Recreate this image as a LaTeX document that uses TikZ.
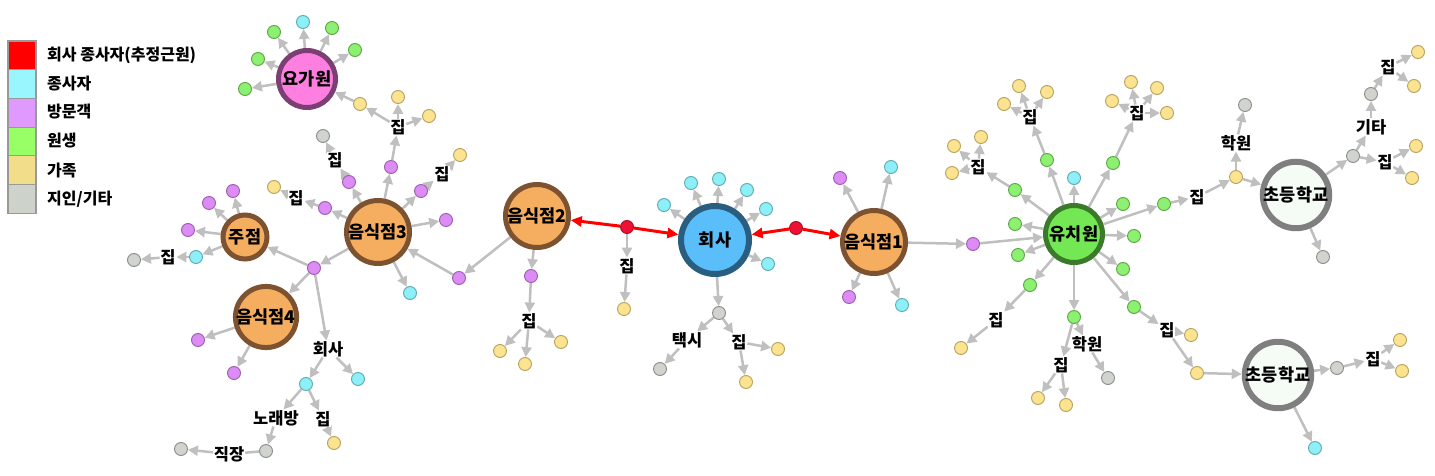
\documentclass[tikz,border=0pt]{standalone}
\usepackage{fontspec}
\setmainfont{Noto Sans CJK KR}
\usetikzlibrary{arrows.meta}
\pgfdeclarelayer{bg}
\pgfsetlayers{bg,main}
\definecolor{eg}{HTML}{BFBFBF}
\definecolor{cyF}{HTML}{8DF0F8}\definecolor{cyD}{HTML}{5FA9B0}
\definecolor{puF}{HTML}{DD8CF5}\definecolor{puD}{HTML}{9C5CB0}
\definecolor{grF}{HTML}{8CF070}\definecolor{grD}{HTML}{5BA545}
\definecolor{yeF}{HTML}{FCE38F}\definecolor{yeD}{HTML}{B6A160}
\definecolor{gyF}{HTML}{D0D3CE}\definecolor{gyD}{HTML}{8A8D88}
\definecolor{rdF}{HTML}{EE1133}\definecolor{rdD}{HTML}{A01020}
\definecolor{LcyF}{HTML}{99F6FF}\definecolor{LpuF}{HTML}{E099FF}
\definecolor{LgrF}{HTML}{99FF66}\definecolor{LyeF}{HTML}{F2DE8A}
\definecolor{LgyF}{HTML}{CDD3CB}
\definecolor{pkF}{HTML}{FF7FE0}\definecolor{pkD}{HTML}{7B3F74}
\definecolor{orF}{HTML}{F5AD5F}\definecolor{orD}{HTML}{7C5230}
\definecolor{blF}{HTML}{5ABEFA}\definecolor{blD}{HTML}{2A5E80}
\definecolor{kgF}{HTML}{74E854}\definecolor{kgD}{HTML}{3B7A2B}
\definecolor{wtF}{HTML}{F5FBF5}\definecolor{wtD}{HTML}{7F7F7F}
\tikzset{
  sm/.style={circle,minimum size=13,inner sep=0,line width=0.9},
  cy/.style={sm,fill=cyF,draw=cyD},
  pu/.style={sm,fill=puF,draw=puD},
  gr/.style={sm,fill=grF,draw=grD},
  ye/.style={sm,fill=yeF,draw=yeD},
  gy/.style={sm,fill=gyF,draw=gyD},
  rd/.style={sm,fill=rdF,draw=rdD},
  big/.style={circle,inner sep=0,line width=5,font=\fontsize{17.5}{19}\selectfont\bfseries},
  orn/.style={big,fill=orF,draw=orD,minimum size=63},
  lab/.style={inner sep=0.6,fill=white,font=\fontsize{16.5}{18}\selectfont\bfseries},
  e/.style={draw=eg,line width=2.5,-{Triangle[length=10,width=10]}},
  ep/.style={draw=eg,line width=2.5},
  re/.style={draw=red,line width=3,-{Triangle[length=11,width=10]}},
  legbox/.style={draw=gray!80,line width=1.2,minimum width=28,minimum height=28.7,inner sep=0},
  legtxt/.style={anchor=west,font=\fontsize{16}{18}\selectfont\bfseries,inner sep=0}
}
\begin{document}
\begin{tikzpicture}[x=1pt,y=-1pt]
\useasboundingbox (0,0) rectangle (1435,476);
% legend
\node[legbox,fill=red]  (L1) at (22,55.4) {};
\node[legbox,fill=LcyF] (L2) at (22,84.1) {};
\node[legbox,fill=LpuF] (L3) at (22,112.8) {};
\node[legbox,fill=LgrF] (L4) at (22,141.5) {};
\node[legbox,fill=LyeF] (L5) at (22,170.2) {};
\node[legbox,fill=LgyF] (L6) at (22,198.9) {};
\node[legtxt] (T1) at (47,55) {회사 종사자(추정근원)};
\node[legtxt] (T2) at (47,84) {종사자};
\node[legtxt] (T3) at (47,112) {방문객};
\node[legtxt] (T4) at (47,141) {원생};
\node[legtxt] (T5) at (47,170) {가족};
\node[legtxt] (T6) at (47,199) {지인/기타};

% big nodes
\node[big,fill=pkF,draw=pkD,minimum size=57] (yoga) at (307,79) {요가원};
\node[orn] (r3) at (378,232) {음식점3};
\node[orn,minimum size=44] (ju) at (245,237) {주점};
\node[orn,minimum size=61] (r4) at (266,317) {음식점4};
\node[orn] (r2) at (537,216) {음식점2};
\node[big,fill=blF,draw=blD,line width=6,minimum size=68] (co) at (715,240) {회사};
\node[orn] (r1) at (874,242) {음식점1};
\node[big,fill=kgF,draw=kgD,minimum size=57] (ki) at (1074,234) {유치원};
\node[big,fill=wtF,draw=wtD,line width=6,minimum size=58] (e1) at (1296,195) {초등학교};
\node[big,fill=wtF,draw=wtD,line width=6,minimum size=58] (e2) at (1278,375) {초등학교};

% yoga cluster
\node[gr] (y1) at (274,32) {};
\node[cy] (y2) at (303,22) {};
\node[gr] (y3) at (332,28) {};
\node[gr] (y4) at (355,50) {};
\node[gr] (y5) at (258,59) {};
\node[gr] (y6) at (245,89) {};
\node[ye] (yy) at (360,104) {};
\node[lab] (h1) at (398,127) {집};
\node[ye] (a1) at (398,97) {};
\node[ye] (a2) at (429,116) {};
% r3 cluster
\node[pu] (p1) at (391,167) {};
\node[pu] (p2) at (421,191) {};
\node[lab] (h2) at (442,174) {집};
\node[ye] (a3) at (460,155) {};
\node[pu] (p3) at (446,220) {};
\node[pu] (p4) at (349,182) {};
\node[lab] (h3) at (335,160) {집};
\node[gy] (a4) at (323,136) {};
\node[pu] (p5) at (325,208) {};
\node[lab] (h4) at (296,198) {집};
\node[ye] (a5) at (274,187) {};
\node[cy] (c1) at (410,293) {};
\node[pu] (p6) at (459,278) {};
\node[pu] (p7) at (314,268) {};
% ju cluster
\node[pu] (j1) at (209,203) {};
\node[pu] (j2) at (233,191) {};
\node[pu] (j3) at (188,230) {};
\node[cy] (c2) at (196,257) {};
\node[lab] (h5) at (168,257) {집};
\node[gy] (a6) at (134,260) {};
% r4 cluster
\node[pu] (q1) at (198,340) {};
\node[pu] (q2) at (234,373) {};
\node[lab] (lco) at (328,349) {회사};
\node[cy] (c3) at (358,379) {};
\node[cy] (c4) at (306,384) {};
\node[lab] (nr) at (276,418) {노래방};
\node[lab] (h6) at (323,419) {집};
\node[ye] (a7) at (334,443) {};
\node[gy] (g1) at (266,451) {};
\node[lab] (jj) at (229,454) {직장};
\node[gy] (g0) at (181,449) {};
% r2 cluster
\node[pu] (p9) at (531,276) {};
\node[lab] (h9) at (529,321) {집};
\node[ye] (b1) at (500,351) {};
\node[ye] (b2) at (525,364) {};
\node[ye] (b3) at (561,342) {};
% red nodes
\node[rd] (rn1) at (627,227) {};
\node[rd] (rn2) at (796,228) {};
\node[lab] (h7) at (627,266) {집};
\node[ye] (b4) at (624,309) {};
% co cluster
\node[cy] (o1) at (664,205) {};
\node[cy] (o2) at (691,183) {};
\node[cy] (o3) at (719,179) {};
\node[cy] (o4) at (747,190) {};
\node[cy] (o5) at (766,209) {};
\node[cy] (o6) at (768,264) {};
\node[gy] (g2) at (719,313) {};
\node[lab] (tx) at (687,340) {택시};
\node[gy] (g3) at (660,369) {};
\node[lab] (h8) at (739,342) {집};
\node[ye] (b5) at (778,349) {};
\node[ye] (b6) at (746,382) {};
% r1 cluster
\node[pu] (s1) at (840,178) {};
\node[cy] (s2) at (891,167) {};
\node[pu] (s3) at (849,297) {};
\node[cy] (s4) at (902,305) {};
\node[pu] (p8) at (973,244) {};
% kindergarten
\node[cy] (kc) at (1074,178) {};
\node[gr] (k1) at (1047,160) {};
\node[lab] (hk1) at (1030,117) {집};
\node[ye] (d1) at (1019,86) {};
\node[ye] (d2) at (1047,92) {};
\node[ye] (d3) at (1004,104) {};
\node[gr] (k2) at (1015,190) {};
\node[lab] (hk2) at (978,167) {집};
\node[ye] (d4) at (981,137) {};
\node[ye] (d5) at (954,146) {};
\node[ye] (d6) at (952,173) {};
\node[gr] (k3) at (1113,163) {};
\node[lab] (hk3) at (1137,113) {집};
\node[ye] (d7) at (1131,82) {};
\node[ye] (d8) at (1157,88) {};
\node[ye] (d9) at (1112,101) {};
\node[ye] (d10) at (1167,113) {};
\node[gr] (ka) at (1123,204) {};
\node[gr] (k4) at (1164,204) {};
\node[lab] (hk4) at (1197,197) {집};
\node[ye] (k5) at (1236,177) {};
\node[lab] (hw1) at (1236,143) {학원};
\node[gy] (d11) at (1245,105) {};
\node[gr] (kb) at (1015,224) {};
\node[gr] (kc2) at (1134,236) {};
\node[gr] (kd) at (1018,255) {};
\node[gr] (ke) at (1123,269) {};
\node[gr] (k6) at (1030,285) {};
\node[lab] (hk6) at (996,320) {집};
\node[ye] (d12) at (961,348) {};
\node[gr] (k7) at (1074,317) {};
\node[lab] (hk7) at (1061,365) {집};
\node[ye] (d13) at (1038,398) {};
\node[ye] (d14) at (1066,405) {};
\node[lab] (hw2) at (1087,344) {학원};
\node[gy] (d15) at (1108,378) {};
\node[gr] (k8) at (1134,307) {};
\node[lab] (hk8) at (1167,330) {집};
\node[ye] (d16) at (1191,335) {};
\node[ye] (k9) at (1197,373) {};
% elementary 1
\node[gy] (m1) at (1353,156) {};
\node[lab] (gt) at (1371,127) {기타};
\node[gy] (m2) at (1371,94) {};
\node[lab] (hm2) at (1388,67) {집};
\node[ye] (f1) at (1418,52) {};
\node[ye] (f2) at (1414,86) {};
\node[lab] (hm1) at (1385,162) {집};
\node[ye] (f3) at (1416,146) {};
\node[ye] (f4) at (1412,178) {};
\node[gy] (f5) at (1323,257) {};
% elementary 2
\node[gy] (m3) at (1337,368) {};
\node[lab] (hm3) at (1373,359) {집};
\node[ye] (f6) at (1400,340) {};
\node[ye] (f7) at (1402,371) {};
\node[cy] (f8) at (1315,448) {};

\begin{pgfonlayer}{bg}
\foreach \a/\b in {yoga/y1,yoga/y2,yoga/y3,yoga/y4,yoga/y5,yoga/y6,yy/yoga,
  h1/yy,h1/a1,h1/a2,r3/p1,p1/h1,r3/p2,p2/h2,h2/a3,r3/p3,r3/p4,p4/h3,h3/a4,
  r3/p5,p5/h4,h4/a5,r3/c1,r2/p6,p6/r3,r3/p7,p7/ju,p7/r4,p7/lco,
  ju/j1,ju/j2,ju/j3,ju/c2,c2/h5,h5/a6,r4/q1,r4/q2,
  lco/c3,lco/c4,c4/nr,c4/h6,h6/a7,nr/g1,jj/g0,
  r2/p9,p9/h9,h9/b1,h9/b2,h9/b3,rn1/h7,h7/b4,
  co/o1,co/o2,co/o3,co/o4,co/o5,co/o6,co/g2,g2/tx,tx/g3,g2/h8,h8/b5,h8/b6,
  r1/s1,r1/s2,r1/s3,r1/s4,r1/p8,p8/ki,
  ki/kc,ki/k1,k1/hk1,hk1/d1,hk1/d2,hk1/d3,ki/k2,k2/hk2,hk2/d4,hk2/d5,hk2/d6,
  ki/k3,k3/hk3,hk3/d7,hk3/d8,hk3/d9,hk3/d10,ki/ka,ki/k4,k4/hk4,hk4/k5,k5/hw1,hw1/d11,k5/e1,
  ki/kb,ki/kc2,ki/kd,ki/ke,ki/k6,k6/hk6,hk6/d12,ki/k7,k7/hk7,hk7/d13,hk7/d14,k7/hw2,hw2/d15,
  ki/k8,k8/hk8,hk8/d16,hk8/k9,k9/e2,
  e1/m1,m1/gt,gt/m2,m2/hm2,hm2/f1,hm2/f2,m1/hm1,hm1/f3,hm1/f4,e1/f5,
  e2/m3,m3/hm3,hm3/f6,hm3/f7,e2/f8}
  \draw[e] (\a) -- (\b);
\draw[ep] (g1) -- (jj);
\draw[re] (rn1) -- (r2);
\draw[re] (rn1) -- (co);
\draw[re] (rn2) -- (co);
\draw[re] (rn2) -- (r1);
\end{pgfonlayer}
\end{tikzpicture}
\end{document}
